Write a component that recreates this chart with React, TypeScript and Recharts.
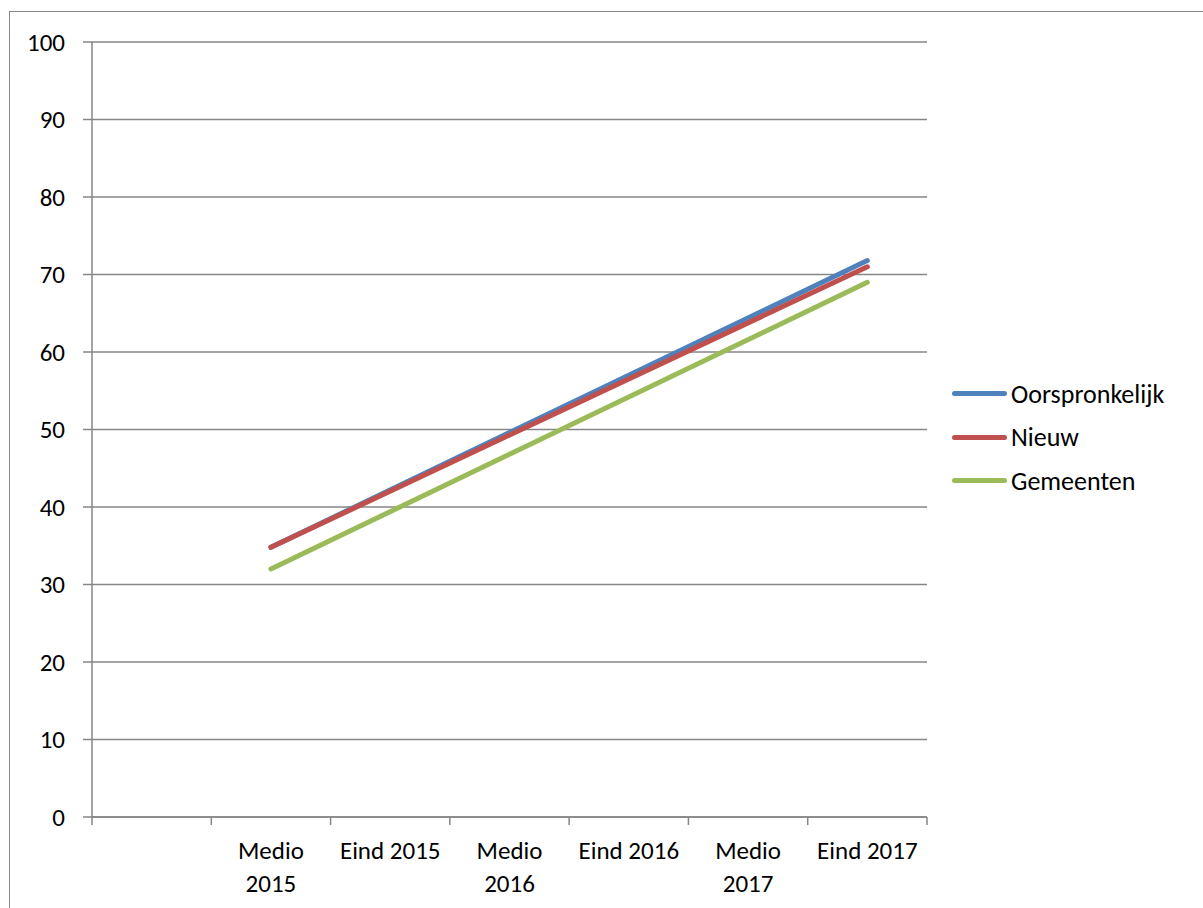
import React from 'react'
import { CartesianGrid, Line, LineChart, XAxis, YAxis } from 'recharts'

// categorie-as (eerste categorie is leeg, zoals in het origineel)
const categories = ['', 'Medio\n2015', 'Eind 2015', 'Medio\n2016', 'Eind 2016', 'Medio\n2017', 'Eind 2017']
const oorspronkelijk = [null, 34.8, null, null, null, null, 71.8]
const nieuw = [null, 34.8, null, null, null, null, 71.0]
const gemeenten = [null, 32.0, null, null, null, null, 69.0]
const yTicks = [0, 10, 20, 30, 40, 50, 60, 70, 80, 90, 100]

const series = [
  { key: 'oorspronkelijk', name: 'Oorspronkelijk', color: '#4F81BD' },
  { key: 'nieuw', name: 'Nieuw', color: '#C0504D' },
  { key: 'gemeenten', name: 'Gemeenten', color: '#9BBB59' }
]

const data = categories.map((c, i) => ({
  cat: c,
  oorspronkelijk: oorspronkelijk[i],
  nieuw: nieuw[i],
  gemeenten: gemeenten[i]
}))

const FONT = 'Carlito, Lato, sans-serif'
const AXIS = '#868686'
const W = 1203
const H = 908
const PLOT_LEFT = 92
const PLOT_RIGHT = 927
const HALF = (PLOT_RIGHT - PLOT_LEFT) / categories.length / 2

const XTick = (props: any) => {
  const { x, y, payload, index } = props
  const lines = String(payload.value).split('\n')
  return (
    <g>
      <line x1={x - HALF} x2={x - HALF} y1={y} y2={y + 8} stroke={AXIS} strokeWidth={1.5} />
      {index === categories.length - 1 && (
        <line x1={x + HALF} x2={x + HALF} y1={y} y2={y + 8} stroke={AXIS} strokeWidth={1.5} />
      )}
      {lines.map((l, i) => (
        <text key={i} x={x} y={y + 42 + i * 33} textAnchor="middle" fill="#000" fontSize={25} fontFamily={FONT}>
          {l}
        </text>
      ))}
    </g>
  )
}

export default function App() {
  return (
    <div style={{ position: 'fixed', left: 0, top: 0, width: W, height: H, overflow: 'hidden', background: '#fff' }}>
      <div
        style={{
          position: 'absolute',
          left: 9,
          top: 11,
          width: 1400,
          height: 1100,
          border: `1.5px solid ${AXIS}`
        }}
      />
      <div style={{ position: 'absolute', left: 0, top: 0 }}>
        <LineChart width={W} height={H} data={data} margin={{ top: 42, right: W - PLOT_RIGHT, bottom: 0, left: 0 }}>
          <CartesianGrid vertical={false} stroke={AXIS} strokeWidth={1.5} />
          <XAxis
            dataKey="cat"
            height={91}
            interval={0}
            padding={{ left: HALF, right: HALF }}
            tickLine={false}
            tickSize={0}
            tickMargin={0}
            axisLine={{ stroke: AXIS, strokeWidth: 1.5 }}
            tick={<XTick />}
          />
          <YAxis
            width={PLOT_LEFT}
            domain={[0, 100]}
            ticks={yTicks}
            interval={0}
            tickSize={9}
            tickMargin={18}
            axisLine={{ stroke: AXIS, strokeWidth: 1.5 }}
            tickLine={{ stroke: AXIS, strokeWidth: 1.5 }}
            tick={{ fill: '#000', fontSize: 25, fontFamily: FONT }}
          />
          {series.map((s) => (
            <Line
              key={s.key}
              dataKey={s.key}
              name={s.name}
              stroke={s.color}
              strokeWidth={5}
              strokeLinecap="round"
              dot={false}
              activeDot={false}
              connectNulls
              isAnimationActive={false}
            />
          ))}
        </LineChart>
      </div>
      <div style={{ position: 'absolute', left: 952, top: 372, fontFamily: FONT, fontSize: 26 }}>
        {series.map((s) => (
          <div key={s.key} style={{ display: 'flex', alignItems: 'center', height: 43.5 }}>
            <div style={{ width: 55, height: 5, borderRadius: 3, background: s.color, marginRight: 4 }} />
            <span>{s.name}</span>
          </div>
        ))}
      </div>
    </div>
  )
}
